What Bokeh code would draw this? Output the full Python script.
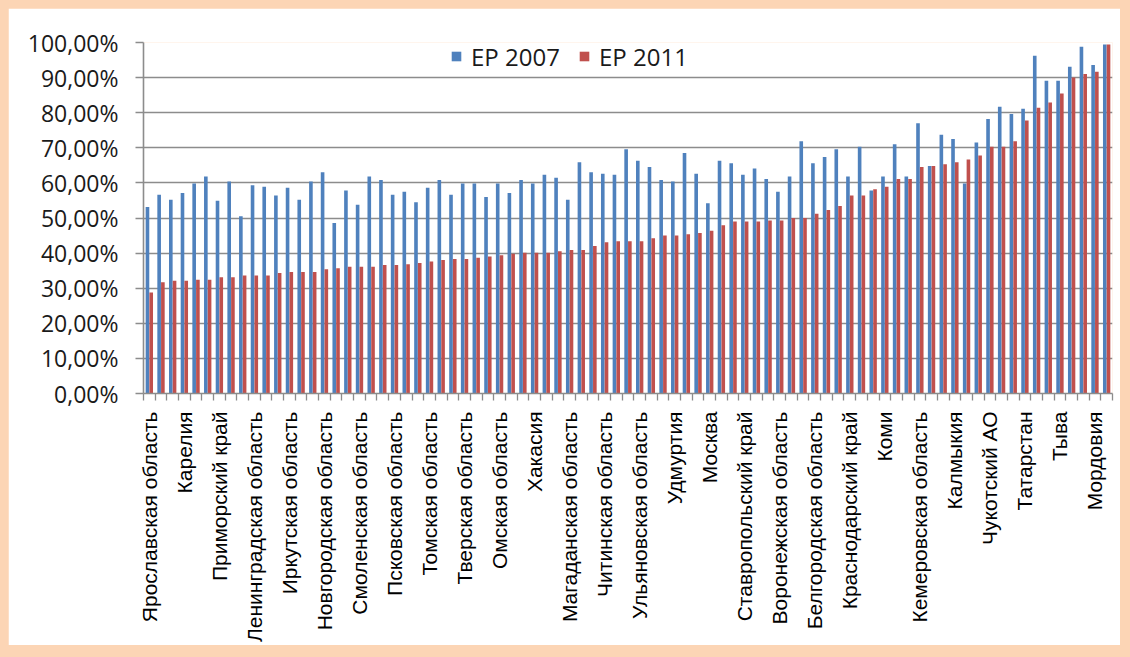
import math
from bokeh.plotting import figure
from bokeh.models import FixedTicker, Legend, LegendItem, ColumnDataSource
from bokeh.transform import dodge
from bokeh.embed import file_html
from bokeh.resources import INLINE

# ---- data ----
shown_labels = [
    "Ярославская область", "Карелия", "Приморский край", "Ленинградская область",
    "Иркутская область", "Новгородская область", "Смоленская область", "Псковская область",
    "Томская область", "Тверская область", "Омская область", "Хакасия",
    "Магаданская область", "Читинская область", "Ульяновская область", "Удмуртия",
    "Москва", "Ставропольский край", "Воронежская область", "Белгородская область",
    "Краснодарский край", "Коми", "Кемеровская область", "Калмыкия",
    "Чукотский АО", "Татарстан", "Тыва", "Мордовия",
]
label_step = 3

ep2007 = [
    53.1, 56.6, 55.2, 57.1, 59.8, 61.8, 54.9, 60.4, 50.5, 59.3,
    58.9, 56.4, 58.6, 55.2, 60.4, 63.0, 48.6, 57.8, 53.8, 61.8,
    60.8, 56.6, 57.5, 54.5, 58.6, 60.8, 56.6, 59.8, 59.8, 56.0,
    59.8, 57.1, 60.8, 59.8, 62.3, 61.5, 55.2, 65.9, 63.0, 62.6,
    62.3, 69.6, 66.3, 64.5, 60.8, 60.4, 68.5, 62.6, 54.2, 66.3,
    65.6, 62.3, 64.1, 61.1, 57.5, 61.8, 71.9, 65.6, 67.4, 69.6,
    61.8, 70.3, 57.8, 61.8, 71.0, 61.8, 77.0, 64.8, 73.7, 72.5,
    59.8, 71.5, 78.2, 81.7, 79.6, 81.1, 96.2, 89.1, 89.1, 93.1,
    98.8, 93.6, 99.4,
]
ep2011 = [
    28.8, 31.7, 32.1, 32.1, 32.4, 32.4, 33.1, 33.1, 33.6, 33.6,
    33.6, 34.3, 34.6, 34.6, 34.6, 35.4, 35.7, 36.1, 36.1, 36.1,
    36.6, 36.6, 36.8, 37.2, 37.6, 38.0, 38.3, 38.3, 38.7, 39.0,
    39.4, 39.8, 40.1, 40.1, 40.1, 40.5, 40.9, 40.9, 42.0, 43.1,
    43.4, 43.4, 43.4, 44.2, 45.0, 45.0, 45.4, 45.7, 46.4, 47.9,
    49.0, 49.0, 49.0, 49.3, 49.3, 50.0, 50.0, 51.2, 52.3, 53.4,
    56.4, 56.4, 58.2, 58.9, 61.1, 61.1, 64.5, 64.8, 65.3, 65.9,
    66.7, 67.8, 70.3, 70.3, 71.9, 77.8, 81.4, 82.9, 85.5, 90.0,
    91.0, 91.7, 99.4,
]

y_ticks = [0, 10, 20, 30, 40, 50, 60, 70, 80, 90, 100]
y_tick_labels = ["0,00%", "10,00%", "20,00%", "30,00%", "40,00%", "50,00%",
                 "60,00%", "70,00%", "80,00%", "90,00%", "100,00%"]
series_names = ["ЕР 2007", "ЕР 2011"]
colors = ["#4F81BD", "#C0504D"]

# ---- chart ----
n = len(ep2007)
src = ColumnDataSource(dict(x=list(range(n)), a=ep2007, b=ep2011))

p = figure(width=1112, height=637, x_range=(-0.5, n - 0.5), y_range=(0, 100),
           output_backend="svg", toolbar_location=None,
           min_border_left=135, min_border_right=8, min_border_top=34, min_border_bottom=252)
p.outline_line_color = None
p.background_fill_color = "white"
p.border_fill_color = "white"

r1 = p.vbar(x=dodge("x", -0.16), top="a", width=0.31, source=src,
            fill_color=colors[0], line_color=None)
r2 = p.vbar(x=dodge("x", 0.16), top="b", width=0.31, source=src,
            fill_color=colors[1], line_color=None)

grey = "#8c8c8c"
p.xgrid.visible = False
p.ygrid.grid_line_color = grey
p.ygrid.grid_line_width = 1.6

p.yaxis.ticker = FixedTicker(ticks=y_ticks)
p.yaxis.major_label_overrides = dict(zip(y_ticks, y_tick_labels))
p.yaxis.axis_line_color = grey
p.yaxis.axis_line_width = 1.6
p.yaxis.major_tick_line_color = grey
p.yaxis.major_tick_line_width = 1.6
p.yaxis.major_tick_out = 8
p.yaxis.major_tick_in = 0
p.yaxis.minor_tick_line_color = None
p.yaxis.major_label_standoff = 17
p.yaxis.major_label_text_font = "Open Sans"
p.yaxis.major_label_text_font_size = "23px"
p.yaxis.major_label_text_color = "#1a1a1a"

label_pos = list(range(0, n, label_step))[:len(shown_labels)]
boundaries = [i - 0.5 for i in range(n + 1)]
p.xaxis.ticker = FixedTicker(ticks=label_pos, minor_ticks=boundaries)
p.xaxis.major_label_overrides = dict(zip(label_pos, shown_labels))
p.xaxis.major_label_orientation = math.pi / 2
p.xaxis.axis_line_color = grey
p.xaxis.axis_line_width = 1.6
p.xaxis.major_tick_line_color = None
p.xaxis.major_tick_out = 0
p.xaxis.major_tick_in = 0
p.xaxis.minor_tick_line_color = grey
p.xaxis.minor_tick_line_width = 1.3
p.xaxis.minor_tick_out = 7
p.xaxis.minor_tick_in = 0
p.xaxis.major_label_standoff = 11
p.xaxis.major_label_text_font = "Liberation Sans"
p.xaxis.major_label_text_font_size = "21px"
p.xaxis.major_label_text_color = "black"

legend_x = [307, 435]
for name, rend, lx in zip(series_names, [r1, r2], legend_x):
    lg = Legend(items=[LegendItem(label=name, renderers=[rend])],
                orientation="vertical", location=(lx, 320),
                border_line_color=None, background_fill_color=None,
                background_fill_alpha=0,
                padding=4, margin=0, label_standoff=9,
                glyph_width=12, glyph_height=12, label_height=34,
                label_text_font="Open Sans", label_text_font_size="24px",
                label_text_color="#1a1a1a")
    if hasattr(lg, "item_background_fill_alpha"):
        lg.item_background_fill_alpha = 0
    p.add_layout(lg)

html = file_html(p, INLINE)
html = html.replace("<head>",
                    "<head><style>html,body{background:#FCD5B5;}body{padding:8px !important;}</style>", 1)
open("out.html", "w").write(html)
